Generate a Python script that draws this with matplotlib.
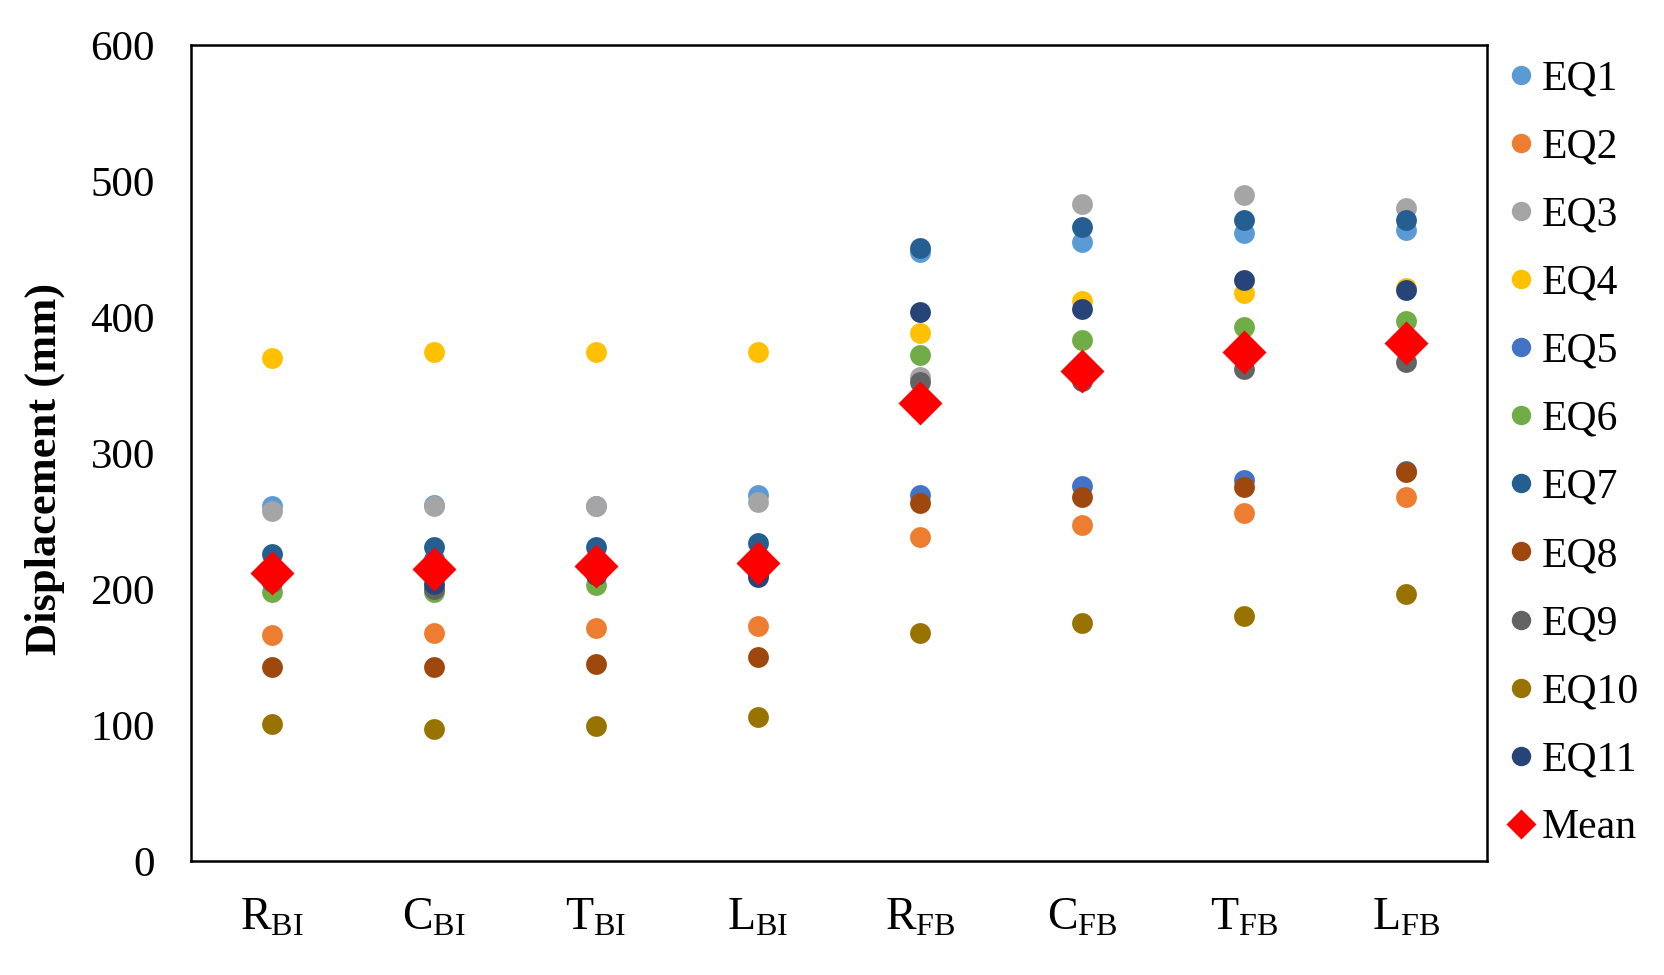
import matplotlib
matplotlib.use("Agg")
import matplotlib.pyplot as plt

plt.rcParams["font.family"] = ["Liberation Serif", "DejaVu Serif"]
plt.rcParams["mathtext.fontset"] = "custom"
plt.rcParams["mathtext.rm"] = "Liberation Serif"

# cases (x axis)
cases = [r"$\mathregular{R_{BI}}$", r"$\mathregular{C_{BI}}$", r"$\mathregular{T_{BI}}$", r"$\mathregular{L_{BI}}$",
         r"$\mathregular{R_{FB}}$", r"$\mathregular{C_{FB}}$", r"$\mathregular{T_{FB}}$", r"$\mathregular{L_{FB}}$"]

# peak displacement (mm) per earthquake record
eq1 = [261, 262, 261, 269, 448, 455, 462, 464]
eq2 = [166, 168, 171, 173, 238, 247, 256, 268]
eq3 = [257, 261, 261, 264, 356, 483, 490, 480]
eq4 = [370, 374, 374, 374, 388, 412, 418, 421]
eq5 = [205, 222, 215, 212, 269, 276, 280, 287]
eq6 = [198, 198, 203, 211, 372, 383, 393, 397]
eq7 = [226, 231, 231, 234, 451, 466, 471, 471]
eq8 = [143, 143, 145, 150, 263, 268, 275, 286]
eq9 = [205, 200, 215, 211, 352, 353, 362, 367]
eq10 = [101, 97, 99, 106, 168, 175, 180, 196]
eq11 = [207, 204, 210, 209, 404, 406, 427, 420]
mean = [212, 215, 217, 219, 337, 360, 374, 381]

series = [eq1, eq2, eq3, eq4, eq5, eq6, eq7, eq8, eq9, eq10, eq11]
names = ["EQ1", "EQ2", "EQ3", "EQ4", "EQ5", "EQ6", "EQ7", "EQ8", "EQ9", "EQ10", "EQ11"]
colors = ["#5B9BD5", "#ED7D31", "#A5A5A5", "#FFC000", "#4472C4", "#70AD47",
          "#255E91", "#9E480E", "#636363", "#997300", "#264478"]

fig = plt.figure(figsize=(16.64, 9.75), dpi=100)
ax = fig.add_axes([191 / 1664, 114 / 975, 1296 / 1664, 816 / 975])

x = list(range(len(cases)))
for vals, name, c in zip(series, names, colors):
    ax.plot(x, vals, linestyle="none", marker="o", markersize=15,
            markerfacecolor=c, markeredgecolor="none", label=name)
ax.plot(x, mean, linestyle="none", marker="D", markersize=22,
        markerfacecolor="red", markeredgecolor="none", label="Mean")

ax.set_xlim(-0.5, 7.5)
ax.set_ylim(0, 600)
ax.set_yticks(range(0, 601, 100))
ax.set_xticks(x)
ax.set_xticklabels(cases)
ax.tick_params(axis="both", length=0)
ax.tick_params(axis="y", pad=26, labelsize=31)
ax.tick_params(axis="x", pad=26, labelsize=33)
for s in ax.spines.values():
    s.set_linewidth(1.8)
    s.set_color("black")

ax.set_ylabel("Displacement (mm)", fontsize=32, fontweight="bold")
ax.yaxis.set_label_coords(-0.097, 0.48)

leg = fig.legend(loc="upper left", bbox_to_anchor=(1508 / 1664, 1 - 60 / 975),
                 frameon=False, fontsize=30, handlelength=0.6, handletextpad=0.2,
                 labelspacing=0.71, borderaxespad=0, borderpad=0)
for h in leg.legend_handles[:-1]:
    h.set_markersize(14)
leg.legend_handles[-1].set_markersize(15)

fig.savefig("out.png", dpi=100)
